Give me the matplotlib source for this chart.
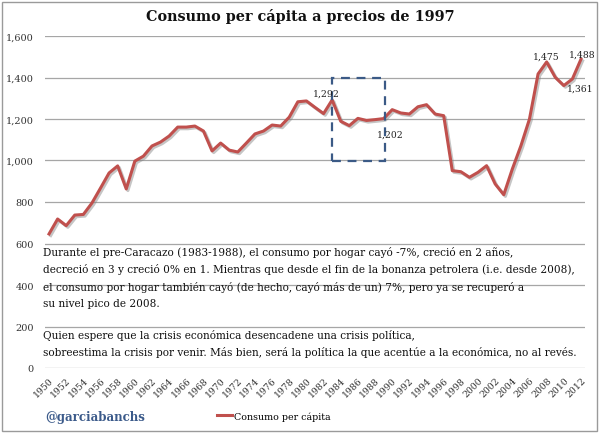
import matplotlib
matplotlib.use("Agg")
import matplotlib.pyplot as plt
import matplotlib.patheffects as pe
from matplotlib.patches import Rectangle
from matplotlib.lines import Line2D

# Consumo per cápita a precios de 1997
years = list(range(1950, 2013))
consumo = [646, 718, 686, 737, 740, 795, 867, 940, 974, 863,
           997, 1021, 1070, 1089, 1118, 1161, 1161, 1166, 1142, 1046,
           1084, 1050, 1041, 1084, 1128, 1142, 1171, 1166, 1209, 1283,
           1287, 1256, 1226, 1292, 1189, 1168, 1203, 1193, 1197, 1202,
           1245, 1229, 1224, 1259, 1269, 1224, 1216, 951, 946, 919,
           943, 975, 887, 835, 959, 1071, 1200, 1417, 1475, 1401,
           1361, 1393, 1488]
y_ticks = [0, 200, 400, 600, 800, 1000, 1200, 1400, 1600]
label_years = [1983, 1989, 2008, 2010, 2012]
label_offsets = [(-4, 5), (5, -11), (0, 4), (12, -2), (1, 4)]

texto1 = ("Durante el pre-Caracazo (1983-1988), el consumo por hogar cayó -7%, creció en 2 años,\n"
          "decreció en 3 y creció 0% en 1. Mientras que desde el fin de la bonanza petrolera (i.e. desde 2008),\n"
          "el consumo por hogar también cayó (de hecho, cayó más de un) 7%, pero ya se recuperó a\n"
          "su nivel pico de 2008.")
texto2 = ("Quien espere que la crisis económica desencadene una crisis política,\n"
          "sobreestima la crisis por venir. Más bien, será la política la que acentúe a la económica, no al revés.")

serif = "DejaVu Serif"
red = "#c0504d"

fig = plt.figure(figsize=(6, 4.35), dpi=100)
ax = fig.add_axes([45 / 600, 1 - 369 / 435, 540 / 600, 332 / 435])

ax.plot(years, consumo, color=red, lw=2.2, solid_joinstyle="round", zorder=3,
        path_effects=[pe.SimpleLineShadow(offset=(1.2, -1.2), shadow_color="gray", alpha=0.45),
                      pe.Normal()])

ax.set_xlim(1949.53, 2012.47)
ax.set_ylim(0, 1600)
ax.set_yticks(y_ticks)
ax.set_yticklabels([f"{v:,}" for v in y_ticks], family=serif, fontsize=7, color="#333333")
ax.set_xticks(years[::2])
ax.set_xticklabels([str(y) for y in years[::2]], rotation=45, ha="right", va="top",
                   rotation_mode="anchor", family=serif, fontsize=6.7, color="#333333")
ax.tick_params(axis="both", length=0)
ax.tick_params(axis="y", pad=8)
ax.tick_params(axis="x", pad=5)
ax.grid(axis="y", color="#a6a6a6", lw=0.9)
ax.set_axisbelow(True)
for s in ax.spines.values():
    s.set_visible(False)

# recuadro del pre-Caracazo
ax.add_patch(Rectangle((1983, 1000), 6.2, 400, fill=False, edgecolor="#3b5a86",
                       lw=1.6, linestyle=(0, (4, 3)), zorder=4))

for yr, off in zip(label_years, label_offsets):
    v = consumo[years.index(yr)]
    ax.annotate(f"{v:,}", xy=(yr, v), xytext=off, textcoords="offset points",
                ha="center", va="center", family=serif, fontsize=6.7, color="#222222", zorder=5)

fig.text(0.5, 1 - 17 / 435, "Consumo per cápita a precios de 1997", ha="center", va="center",
         family=serif, fontweight="bold", fontsize=10.4, color="#111111")

fig.text(43 / 600, 1 - 247 / 435, texto1, ha="left", va="top", family=serif,
         fontsize=7.6, linespacing=1.72, color="#111111")
fig.text(43 / 600, 1 - 330 / 435, texto2, ha="left", va="top", family=serif,
         fontsize=7.6, linespacing=1.72, color="#111111")

fig.text(45 / 600, 1 - 418 / 435, "@garciabanchs", ha="left", va="center", family=serif,
         fontweight="bold", fontsize=8.5, color="#3b5a8a")

fig.legend(handles=[Line2D([], [], color=red, lw=2.2)], labels=["Consumo per cápita"],
           loc="center left", bbox_to_anchor=(208 / 600, 1 - 417 / 435), frameon=False,
           handlelength=1.6, handletextpad=0.2, prop={"family": serif, "size": 6.8})

fig.add_artist(Rectangle((2 / 600, 3 / 435), 595 / 600, 429 / 435, transform=fig.transFigure,
                         fill=False, edgecolor="#9a9a9a", lw=1.0))

fig.savefig("out.png", dpi=100)
